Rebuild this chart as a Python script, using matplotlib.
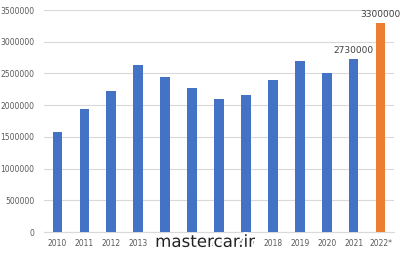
import matplotlib
matplotlib.use("Agg")
import matplotlib.pyplot as plt
import matplotlib.patheffects as pe

years = ["2010", "2011", "2012", "2013", "2014", "2015", "2016", "2017",
         "2018", "2019", "2020", "2021", "2022*"]
sales = [1580000, 1945000, 2218000, 2628000, 2450000, 2270000, 2092000,
         2160000, 2396000, 2696000, 2502000, 2730000, 3300000]
labels = {11: "2730000", 12: "3300000"}
yticks = [0, 500000, 1000000, 1500000, 2000000, 2500000, 3000000, 3500000]

blue = "#4472C4"
orange = "#ED7D31"
colors = [blue] * 12 + [orange]

fig = plt.figure(figsize=(4.0, 2.54), dpi=100)
ax = fig.add_axes([0.11, 0.0866, 0.875, 0.874])
x = list(range(len(years)))
ax.bar(x, sales, width=0.36, color=colors, zorder=3)
ax.set_xlim(-0.5, len(years) - 0.5)
ax.set_ylim(0, 3500000)
ax.set_yticks(yticks)
ax.set_yticklabels([str(v) for v in yticks])
ax.set_xticks(x)
ax.set_xticklabels(years)
ax.tick_params(axis="both", length=0, labelsize=5.5, colors="#595959")
ax.tick_params(axis="y", pad=7)
ax.tick_params(axis="x", pad=5)
ax.grid(axis="y", color="#D9D9D9", linewidth=0.8, zorder=0)
for s in ["top", "right", "left"]:
    ax.spines[s].set_visible(False)
ax.spines["bottom"].set_color("#D9D9D9")
ax.spines["bottom"].set_linewidth(0.8)

for i, t in labels.items():
    ax.annotate(t, (i, sales[i]), xytext=(0, 3), textcoords="offset points",
                ha="center", va="bottom", fontsize=6.5, color="#404040")

fig.text(0.5125, 0.028, "mastercar.ir", ha="center", va="baseline",
         fontsize=12, color="#222222",
         path_effects=[pe.withStroke(linewidth=3, foreground="white")])

fig.savefig("out.png", dpi=100, facecolor="white")
